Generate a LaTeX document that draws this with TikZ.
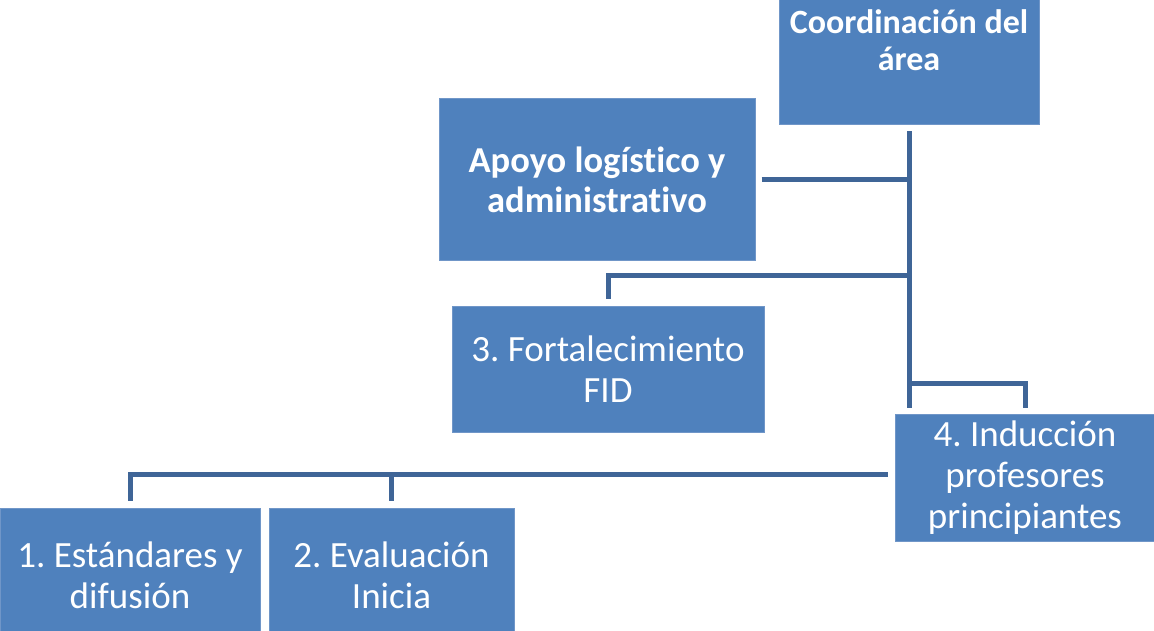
\documentclass[tikz,border=0pt]{standalone}
\usepackage{fontspec}
\setmainfont{Carlito}[Ligatures={NoCommon}]
\usetikzlibrary{calc}
\definecolor{boxfill}{HTML}{4F81BD}
\definecolor{boxedge}{HTML}{7096C8}
\definecolor{linkcol}{HTML}{3F6597}
\frenchspacing
\begin{document}
\begin{tikzpicture}[x=1pt,y=-1pt,
  orgbox/.style={rectangle, fill=boxfill, draw=boxedge, line width=1pt,
    text=white, align=center, inner sep=0pt},
  regtext/.style={font=\fontsize{37}{41}\selectfont},
  boldtext/.style={font=\fontsize{36.5}{40}\selectfont\bfseries},
  coordtext/.style={font=\fontsize{34}{37}\selectfont\bfseries},
  link/.style={draw=linkcol, line width=5pt, line join=miter, line cap=butt}]
\useasboundingbox (0,0) rectangle (1154,631);
\begin{scope}
\clip (0,0) rectangle (1154,631);
\node[orgbox, coordtext, minimum width=260pt, minimum height=170pt] (coord) at (909,40) {Coordinación del\\área};
\node[orgbox, boldtext, minimum width=316pt, minimum height=161pt] (apoyo) at (597,179.5) {Apoyo logístico y\\administrativo};
\node[orgbox, regtext, minimum width=312pt, minimum height=126pt] (b3) at (608,369) {3. Fortalecimiento\\FID};
\node[orgbox, regtext, minimum width=260pt, minimum height=127pt] (b4) at (1025,477.5) {4. Inducción\\profesores\\principiantes};
\node[orgbox, regtext, minimum width=260pt, minimum height=134pt] (b1) at (130,575) {1. Estándares y\\difusión};
\node[orgbox, regtext, minimum width=245pt, minimum height=134pt] (b2) at (391.5,575) {2. Evaluación\\Inicia};
\end{scope}
\coordinate (j3) at (909,275);
\coordinate (j4) at (909,383);
\coordinate (jb) at (0,474);
\coordinate (b4top) at ([yshift=6pt]b4.north);
% trunk
\draw[link] ([yshift=-6pt]coord.south) -- (coord.south |- b4top);
% apoyo
\draw[link] ([xshift=6pt]apoyo.east) -- (apoyo.east -| coord.south);
% fortalecimiento
\draw[link] ([yshift=7pt]b3.north) |- (j3);
% induccion
\draw[link] (j4) -| (b4top);
% bottom branch
\draw[link] ([xshift=-7pt]b4.west |- jb) -| ([yshift=7pt]b1.north);
\draw[link] (b2.north |- jb) -- ([yshift=7pt]b2.north);
\end{tikzpicture}
\end{document}
